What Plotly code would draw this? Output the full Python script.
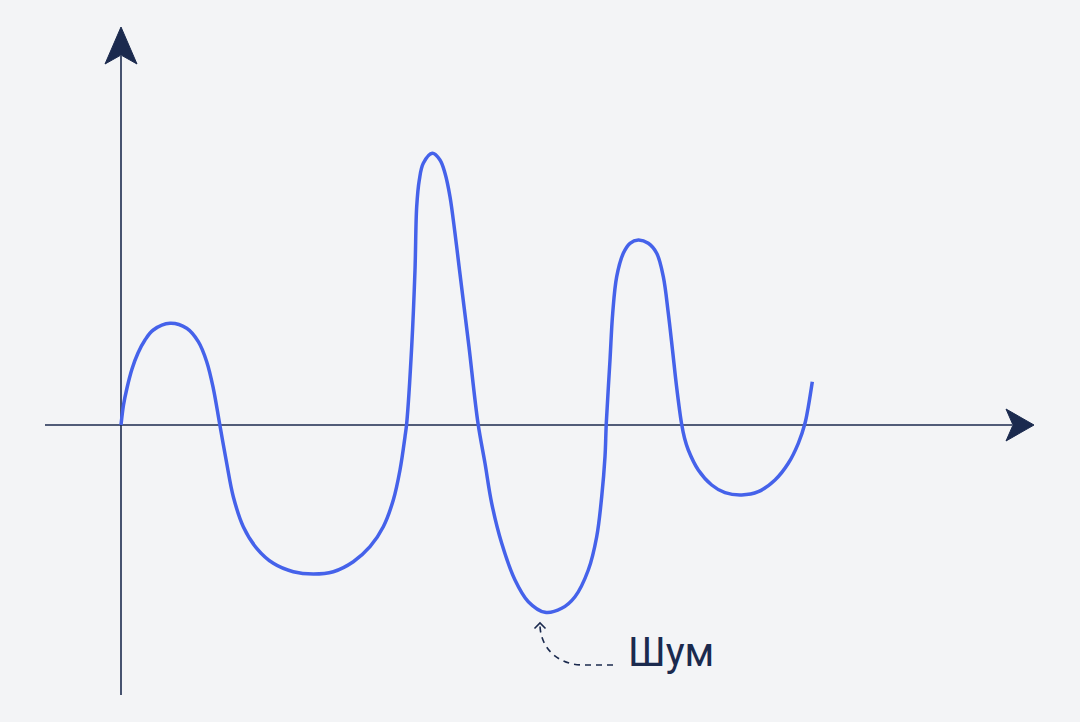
import plotly.graph_objects as go

# Curve values (x, y) relative to the axes origin
curve_x = [0, 2.5, 6, 11, 17, 24, 32.3, 49, 65.7, 77.3, 85.7, 92.3, 98.5,
           105.7, 112.3, 122.3, 135.7, 152.3, 172.3, 192.3, 212.3, 232.3, 249,
           262.3, 272.3, 279, 284, 285.7, 290.7, 294, 295.7, 298.3, 302.3,
           311.3, 319, 324, 329, 334, 338.5, 343.2, 348, 357, 364, 370.7, 380.7,
           394, 407.3, 424, 440.7, 454, 467.3, 475.7, 480.7, 484, 485.3, 489,
           491.7, 495.7, 502.3, 509, 517.3, 527.3, 535.7, 542.3, 547.3, 551.5,
           555.5, 560.5, 563.5, 567.3, 577.3, 590.7, 604, 620.7, 637.3, 654, 667.3,
           677.3, 684, 687.3, 691.3]
curve_y = [0, 20, 37, 56, 72, 85, 95, 101.7, 96.7, 83.3, 63.3, 36.7, 2,
           -38.3, -71.7, -101.7, -123.3, -138.3, -146.7, -149, -146.7, -136.7, -121.7,
           -101.7, -75, -45, -11.7, 1.7, 78.3, 155, 218.3, 245, 261.7,
           271.7, 265, 251.7, 228.3, 191.7, 155, 117, 78, 1.7, -38.3, -78.3, -118.3,
           -155, -176.7, -187.3, -183.3, -171.7, -145, -111.7, -71.7, -31.7, 2, 65,
           111.7, 148.3, 171.7, 181.7, 185, 181.7, 171.7, 148.3, 111.7, 75,
           39, 1.7, -13, -25, -45, -60, -67.7, -70, -66.7, -55, -38.3,
           -18.3, 1.7, 18.3, 43.3]

label_text = "Шум"

ORIGIN_PX = (121, 425)


def px(x, y):
    """Convert picture pixel position to axis data coordinates."""
    return x - ORIGIN_PX[0], ORIGIN_PX[1] - y


def path(points, close=False):
    parts = []
    for i, (x, y) in enumerate(points):
        dx, dy = px(x, y)
        parts.append(("M" if i == 0 else "L") + f"{dx},{dy}")
    s = " ".join(parts)
    if close:
        s += " Z"
    return s


NAVY = "#1b2a4e"
BLUE = "#4562ea"

fig = go.Figure()
fig.add_trace(go.Scatter(
    x=curve_x, y=curve_y, mode="lines",
    line=dict(color=BLUE, width=3.5, shape="spline", smoothing=1.0),
    hoverinfo="skip", showlegend=False,
))

shapes = []
# axis lines
x0, y0 = px(45, 425)
x1, y1 = px(1012, 425)
shapes.append(dict(type="line", xref="x", yref="y", x0=x0, y0=y0, x1=x1, y1=y1,
                   line=dict(color=NAVY, width=1.6), layer="below"))
x0, y0 = px(121, 695)
x1, y1 = px(121, 56)
shapes.append(dict(type="line", xref="x", yref="y", x0=x0, y0=y0, x1=x1, y1=y1,
                   line=dict(color=NAVY, width=1.6), layer="below"))
# arrowheads
shapes.append(dict(type="path", xref="x", yref="y",
                   path=path([(121, 27), (137, 64), (121, 55), (105, 64)], close=True),
                   fillcolor=NAVY, line=dict(color=NAVY, width=1)))
shapes.append(dict(type="path", xref="x", yref="y",
                   path=path([(1034, 425), (1006, 441), (1013, 425), (1006, 409)], close=True),
                   fillcolor=NAVY, line=dict(color=NAVY, width=1)))

# dashed pointer
a = px(613, 665); b = px(583, 665); c1 = px(560, 665); c2 = px(541, 650); d = px(540, 626)
shapes.append(dict(type="path", xref="x", yref="y",
                   path=f"M{a[0]},{a[1]} L{b[0]},{b[1]} C{c1[0]},{c1[1]} {c2[0]},{c2[1]} {d[0]},{d[1]}",
                   line=dict(color=NAVY, width=1.6, dash="6px,5px")))
shapes.append(dict(type="path", xref="x", yref="y",
                   path=path([(534.5, 628.5), (540, 623), (545.5, 628.5)]),
                   line=dict(color=NAVY, width=1.6)))

lx, ly = px(626, 652)
fig.add_annotation(x=lx, y=ly, xref="x", yref="y", text=label_text, showarrow=False,
                   xanchor="left", yanchor="middle",
                   font=dict(family="Roboto", size=40, color=NAVY))

fig.update_layout(
    width=1080, height=722,
    margin=dict(l=0, r=0, t=0, b=0),
    paper_bgcolor="#f3f4f6", plot_bgcolor="#f3f4f6",
    shapes=shapes,
    xaxis=dict(range=[-121, 959], visible=False, fixedrange=True),
    yaxis=dict(range=[-297, 425], visible=False, fixedrange=True),
    showlegend=False,
)

fig.write_html("out.html", config={"displayModeBar": False})

# remove the default page margin so the figure fills the window
with open("out.html", "r", encoding="utf-8") as f:
    html = f.read()
html = html.replace("<body>", '<body style="margin:0;padding:0;background:#f3f4f6;overflow:hidden">', 1)
with open("out.html", "w", encoding="utf-8") as f:
    f.write(html)
